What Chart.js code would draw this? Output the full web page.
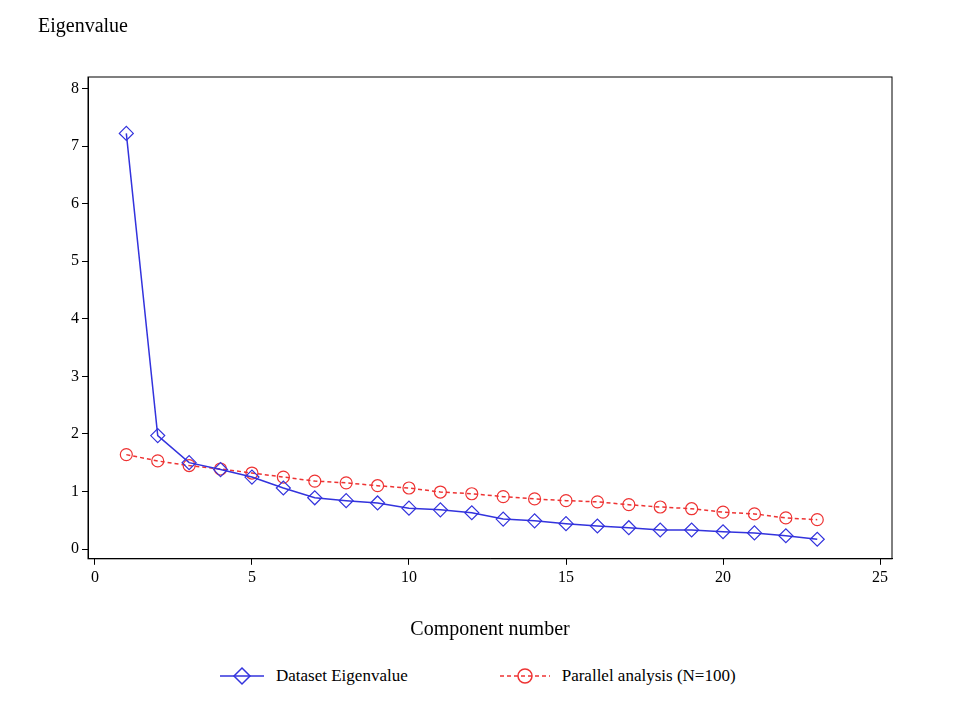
<!DOCTYPE html>
<html>
<head>
<meta charset="utf-8">
<script src="https://cdn.jsdelivr.net/npm/chart.js@4/dist/chart.umd.min.js"></script>
<style>
  body { margin: 0; background: #fff; font-family: "Liberation Serif", serif; }
  #wrap { position: relative; width: 960px; height: 720px; }
  #title { position: absolute; left: 38px; top: 14px; font-size: 20px; }
  #chartBox { position: absolute; left: 0; top: 0; width: 960px; height: 660px; }
  #legend { position: absolute; top: 666px; left: 220px; font-size: 17px; display: flex; gap: 92px; align-items: center; }
  .item { display: flex; align-items: center; gap: 12px; }
</style>
</head>
<body>
<div id="wrap">
  <div id="chartBox"><canvas id="c"></canvas></div>
  <div id="title">Eigenvalue</div>
  <div id="legend">
    <div class="item">
      <svg width="44" height="20"><line x1="0" y1="10" x2="44" y2="10" stroke="#3333dd" stroke-width="1.5"/><polygon points="22,2 30,10 22,18 14,10" fill="none" stroke="#3333dd" stroke-width="1.5"/></svg>
      <span>Dataset Eigenvalue</span>
    </div>
    <div class="item">
      <svg width="50" height="20"><line x1="0" y1="10" x2="50" y2="10" stroke="#ee3333" stroke-width="1.5" stroke-dasharray="4,3"/><circle cx="25" cy="10" r="7" fill="none" stroke="#ee3333" stroke-width="1.5"/></svg>
      <span>Parallel analysis (N=100)</span>
    </div>
  </div>
</div>
<script>
const components = [1,2,3,4,5,6,7,8,9,10,11,12,13,14,15,16,17,18,19,20,21,22,23];
const datasetEigen = [7.22,1.97,1.50,1.38,1.25,1.06,0.89,0.84,0.80,0.71,0.68,0.63,0.52,0.49,0.44,0.40,0.37,0.33,0.33,0.30,0.28,0.23,0.17];
const parallelEigen = [1.64,1.53,1.45,1.39,1.32,1.25,1.18,1.15,1.10,1.06,0.99,0.96,0.91,0.87,0.84,0.82,0.77,0.73,0.70,0.64,0.61,0.54,0.51];
const xTicks = [0,5,10,15,20,25];
const yTicks = [0,1,2,3,4,5,6,7,8];

const frame = {
  id: "frame",
  afterDraw(chart) {
    const a = chart.chartArea, ctx = chart.ctx;
    ctx.save();
    ctx.strokeStyle = "#000";
    ctx.lineWidth = 1;
    ctx.strokeRect(a.left, a.top, a.right - a.left, a.bottom - a.top);
    ctx.restore();
  }
};

const tickFont = { family: "Liberation Serif", size: 16 };

new Chart(document.getElementById("c"), {
  type: "line",
  data: {
    datasets: [
      {
        label: "Dataset Eigenvalue",
        data: components.map((x, i) => ({ x, y: datasetEigen[i] })),
        borderColor: "#3333dd",
        borderWidth: 1.5,
        pointStyle: "rectRot",
        pointRadius: 7,
        pointBorderColor: "#3333dd",
        pointBackgroundColor: "rgba(0,0,0,0)",
        pointBorderWidth: 1.2
      },
      {
        label: "Parallel analysis (N=100)",
        data: components.map((x, i) => ({ x, y: parallelEigen[i] })),
        borderColor: "#ee3333",
        borderWidth: 1.5,
        borderDash: [4, 3],
        pointStyle: "circle",
        pointRadius: 6,
        pointBorderColor: "#ee3333",
        pointBackgroundColor: "rgba(0,0,0,0)",
        pointBorderWidth: 1.2
      }
    ]
  },
  options: {
    responsive: true,
    maintainAspectRatio: false,
    animation: false,
    layout: { padding: { left: 40, right: 68, top: 77, bottom: 14 } },
    plugins: { legend: { display: false }, tooltip: { enabled: false } },
    scales: {
      x: {
        type: "linear",
        min: -0.22,
        max: 25.38,
        afterBuildTicks: axis => { axis.ticks = xTicks.map(v => ({ value: v })); },
        grid: { drawOnChartArea: false, tickLength: 6, color: "#000" },
        border: { color: "#000" },
        ticks: { color: "#000", font: tickFont, maxRotation: 0 },
        title: { display: true, text: "Component number", color: "#000", font: { family: "Liberation Serif", size: 20 }, padding: { top: 28 } }
      },
      y: {
        min: -0.17,
        max: 8.2,
        afterBuildTicks: axis => { axis.ticks = yTicks.map(v => ({ value: v })); },
        afterFit: axis => { axis.width = 48; },
        grid: { drawOnChartArea: false, tickLength: 6, color: "#000" },
        border: { color: "#000" },
        ticks: { color: "#000", font: tickFont }
      }
    }
  },
  plugins: [frame]
});
</script>
</body>
</html>
